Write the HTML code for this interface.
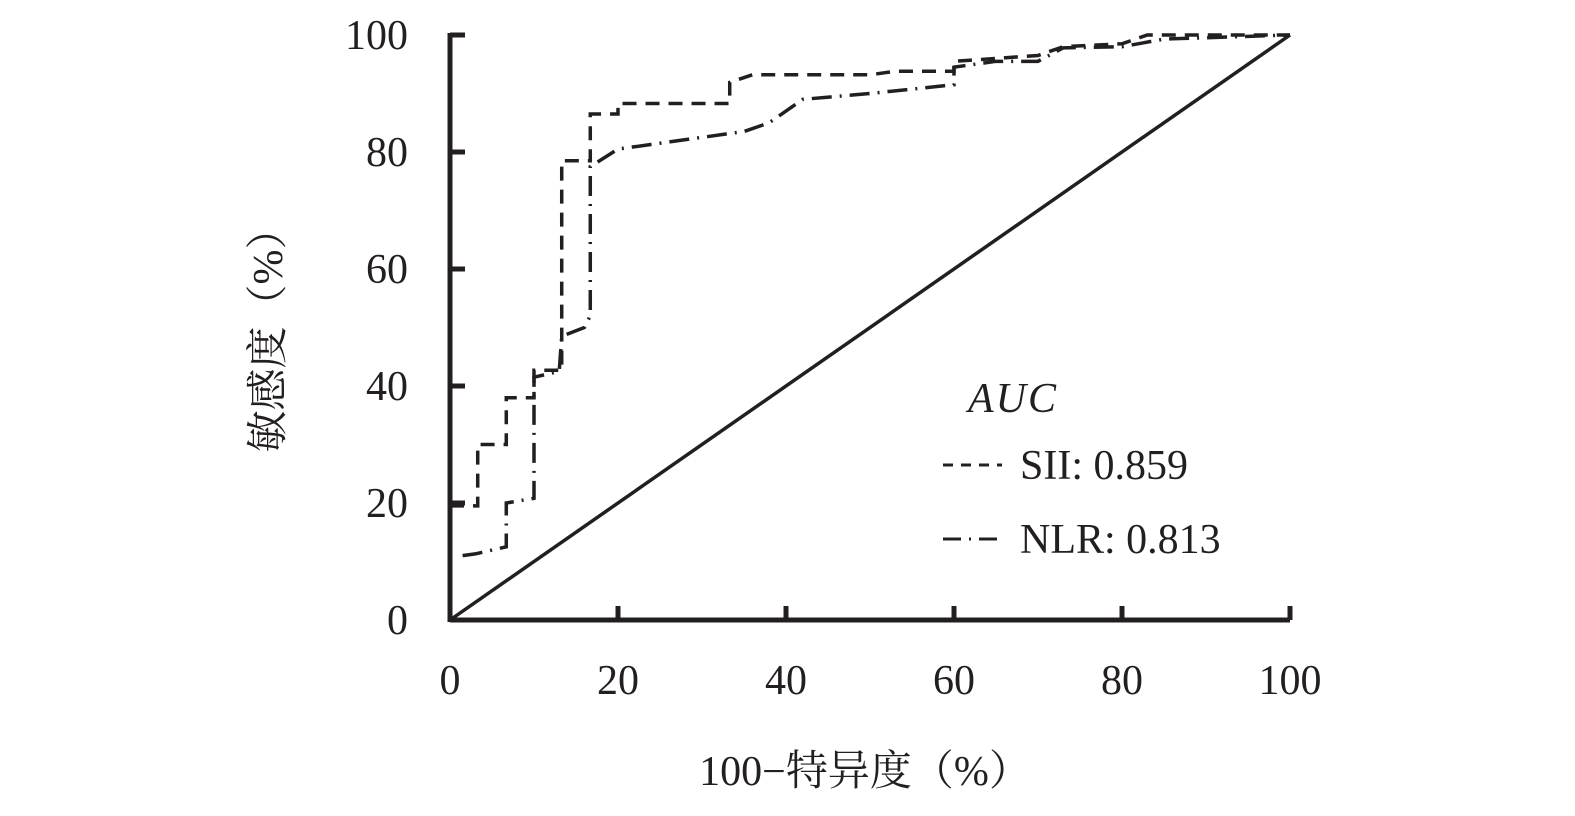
<!DOCTYPE html>
<html><head><meta charset="utf-8"><style>
body{margin:0;background:#fff;}
svg text{font-family:"Liberation Serif","Noto Serif CJK SC",serif;fill:#231f20;}
</style></head><body>
<svg width="1575" height="811" id="c"></svg>
<script>
const xTicks=[0,20,40,60,80,100];
const yTicks=[0,20,40,60,80,100];
const siiX=[0,3.3,3.3,6.7,6.7,10,10,13.3,13.3,16.7,16.7,20,20,33.3,33.3,36,50,53,60,60,70,73,80,83,100];
const siiY=[19.5,19.5,30,30,38,38,42.7,42.7,78.5,78.5,86.5,86.5,88.3,88.3,91.9,93.2,93.2,93.8,93.8,95.5,96.5,98,98.5,100,100];
const nlrX=[1.5,3,6.7,6.7,10,10,13,13.3,16,16.7,16.7,20,25,35,38,42,50,60,60,65,70,73,80,85,100];
const nlrY=[11,11.3,12.5,20,20.8,41.5,42.5,48.5,50,52,77.5,80.5,81.5,83.5,85,89,90,91.5,94.5,95.5,95.5,97.8,98,99.3,100];
const X0=450,X1=1290,Y0=620,Y1=35;
const sx=v=>X0+(X1-X0)*v/100, sy=v=>Y0-(Y0-Y1)*v/100;
const svg=document.getElementById('c');const NS='http://www.w3.org/2000/svg';
function el(t,a,txt){const e=document.createElementNS(NS,t);for(const k in a)e.setAttribute(k,a[k]);if(txt!=null)e.textContent=txt;svg.appendChild(e);return e;}
let e;
e=el('line',{x1:sx(0),y1:Y0,x2:sx(100),y2:Y0,stroke:'#231f20','stroke-width':5});

e=el('line',{x1:sx(0),y1:Y0+2,x2:sx(0),y2:Y1-2,stroke:'#231f20','stroke-width':5});

xTicks.forEach(v=>{
 if(v>0){e=el('line',{x1:sx(v),y1:Y0,x2:sx(v),y2:Y0-14,stroke:'#231f20','stroke-width':5});
 }
 e=el('text',{x:sx(v),y:694,'font-size':42,'text-anchor':'middle'},v);
 
});
yTicks.forEach(v=>{
 e=el('line',{x1:sx(0),y1:sy(v),x2:sx(0)+15,y2:sy(v),stroke:'#231f20','stroke-width':5});
 
 e=el('text',{x:408,y:sy(v)+14,'font-size':42,'text-anchor':'end'},v);
 
});
e=el('line',{x1:sx(0),y1:sy(0),x2:sx(100),y2:sy(100),stroke:'#231f20','stroke-width':3.5});

function pts(xs,ys){return xs.map((x,i)=>sx(x)+','+sy(ys[i])).join(' ');}
e=el('polyline',{points:pts(siiX,siiY),fill:'none',stroke:'#231f20','stroke-width':3.5,'stroke-dasharray':'14 9'});

e=el('polyline',{points:pts(nlrX,nlrY),fill:'none',stroke:'#231f20','stroke-width':3.5,'stroke-dasharray':'20 8 2 8'});

e=el('text',{x:968,y:412,'font-size':42,'font-style':'italic','letter-spacing':2},'AUC');

e=el('line',{x1:943,y1:465,x2:1002,y2:465,stroke:'#231f20','stroke-width':3,'stroke-dasharray':'10 8'});

e=el('text',{x:1020,y:479,'font-size':42},'SII: 0.859');

e=el('line',{x1:943,y1:539,x2:1002,y2:539,stroke:'#231f20','stroke-width':3,'stroke-dasharray':'18 8 2 8'});

e=el('text',{x:1020,y:553,'font-size':42},'NLR: 0.813');

e=el('text',{x:865,y:785,'font-size':42,'text-anchor':'middle'},'100−特异度（%）');

e=el('text',{x:0,y:0,'font-size':42,'text-anchor':'middle',transform:'translate(282,330) rotate(-90)'},'敏感度（%）');

</script>
</body></html>
